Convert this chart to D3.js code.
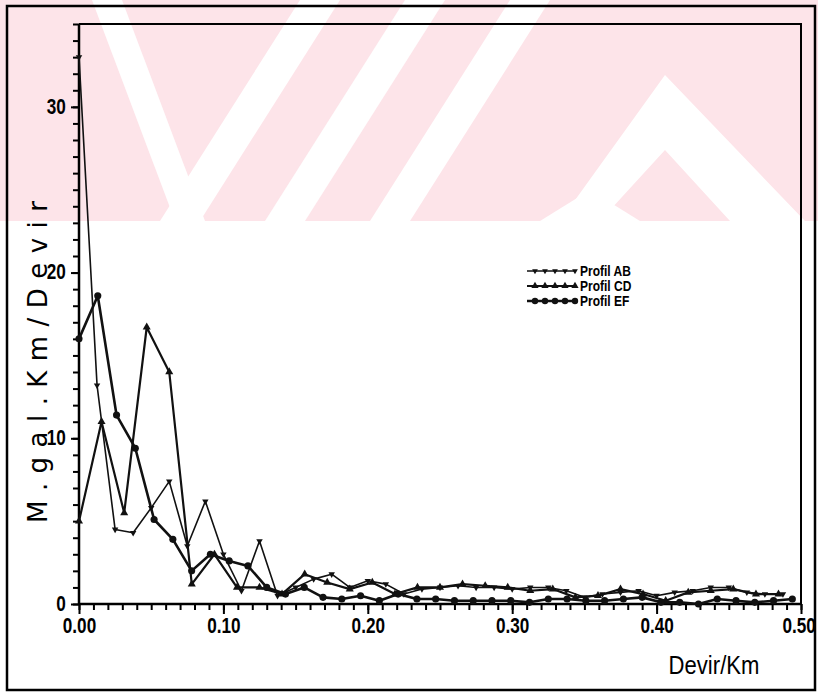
<html>
<head>
<meta charset="utf-8">
<style>
  body { margin: 0; background: #fff; }
  svg { display: block; }
</style>
</head>
<body>
<div id="chart"></div>
<script src="https://cdnjs.cloudflare.com/ajax/libs/d3/7.8.5/d3.min.js"></script>
<script>
"use strict";
// spectra (frequency in Devir/Km, amplitude in M.gal.Km/Devir)
var abFreq = [0, 0.0125, 0.025, 0.0375, 0.05, 0.0625, 0.075, 0.0875, 0.1, 0.1125, 0.125, 0.1375, 0.15, 0.1625, 0.175, 0.1875, 0.2, 0.2125, 0.225, 0.2375,
              0.25, 0.2625, 0.275, 0.2875, 0.3, 0.3125, 0.325, 0.3375, 0.35, 0.3625, 0.375, 0.3875, 0.4, 0.4125, 0.425, 0.4375, 0.45, 0.4625, 0.475, 0.4875];
var abAmp  = [33.0, 13.2, 4.5, 4.3, 5.8, 7.4, 3.5, 6.2, 3.0, 0.8, 3.8, 0.5, 1.0, 1.5, 1.8, 1.0, 1.4, 1.2, 0.6, 0.9,
              1.0, 1.1, 1.0, 1.0, 0.9, 1.0, 1.0, 0.8, 0.4, 0.6, 0.7, 0.8, 0.5, 0.7, 0.8, 1.0, 1.0, 0.7, 0.6, 0.6];

var cdFreq = [0, 0.0156, 0.0313, 0.0469, 0.0625, 0.0781, 0.0938, 0.1094, 0.125, 0.1406, 0.1563, 0.1719, 0.1875, 0.2031, 0.2188, 0.2344,
              0.25, 0.2656, 0.2813, 0.2969, 0.3125, 0.3281, 0.3438, 0.3594, 0.375, 0.3906, 0.4063, 0.4219, 0.4375, 0.4531, 0.4688, 0.4844];
var cdAmp  = [5.0, 11.0, 5.5, 16.7, 14.0, 1.2, 3.0, 1.0, 1.0, 0.6, 1.8, 1.3, 0.9, 1.3, 0.6, 1.0,
              1.0, 1.2, 1.1, 1.0, 0.8, 0.9, 0.4, 0.5, 0.9, 0.6, 0.2, 0.7, 0.8, 0.9, 0.6, 0.6];

var efFreq = [0, 0.013, 0.026, 0.039, 0.052, 0.065, 0.078, 0.091, 0.104, 0.117, 0.13, 0.143, 0.156, 0.169, 0.182, 0.195, 0.208, 0.221, 0.234, 0.247,
              0.26, 0.273, 0.286, 0.299, 0.312, 0.325, 0.338, 0.351, 0.364, 0.377, 0.39, 0.403, 0.416, 0.429, 0.442, 0.455, 0.468, 0.481, 0.494];
var efAmp  = [16.0, 18.6, 11.4, 9.4, 5.1, 3.9, 2.0, 3.0, 2.6, 2.3, 1.0, 0.6, 1.0, 0.4, 0.3, 0.5, 0.2, 0.6, 0.3, 0.3,
              0.2, 0.2, 0.2, 0.2, 0.1, 0.3, 0.3, 0.2, 0.2, 0.3, 0.4, 0.1, 0.1, 0.0, 0.3, 0.2, 0.1, 0.2, 0.3];

var seriesNames = ["Profil  AB", "Profil  CD", "Profil  EF"];
var xTicks = [0, 0.1, 0.2, 0.3, 0.4, 0.5];
var yTicks = [0, 10, 20, 30];

var W = 818, H = 695;
var svg = d3.select("#chart").append("svg").attr("width", W).attr("height", H);

// pink watermark band from the scan (decoration only)
var wm = svg.append("g");
wm.append("rect").attr("x", 0).attr("y", 0).attr("width", W).attr("height", 221).attr("fill", "#fde4e9");
var gaps = [
  [[92,0],[122,0],[205,221],[175,221]],
  [[300,0],[340,0],[200,221],[160,221]],
  [[405,0],[445,0],[305,221],[265,221]],
  [[510,0],[550,0],[410,221],[370,221]],
  [[590,190],[640,221],[540,221]],
  [[665,75],[805,221],[730,221],[665,150],[600,221],[560,221]]
];
wm.selectAll("polygon").data(gaps).join("polygon")
  .attr("points", function (d) { return d.join(" "); })
  .attr("fill", "#fff");

// outer frame of the scanned page
svg.append("rect").attr("x", 7).attr("y", 6).attr("width", 808).attr("height", 684)
  .attr("fill", "none").attr("stroke", "#000").attr("stroke-width", 2.5);

var x = d3.scaleLinear().domain([0, 0.5]).range([79, 801]);
var y = d3.scaleLinear().domain([0, 35]).range([604, 24]);

// narrow bold face like the plotter lettering: Liberation Sans squeezed horizontally
var axisFont = "'Liberation Sans', Arial, sans-serif";
function narrow(sel, sx) {
  sel.attr("transform", "scale(" + sx + ",1)");
}

// plot box top and right edges
svg.append("path")
  .attr("d", "M" + x(0) + "," + y(35) + "H" + x(0.5) + "V" + y(0))
  .attr("fill", "none").attr("stroke", "#000").attr("stroke-width", 2);

// minor ticks
var xAxisMinor = d3.axisBottom(x).ticks(50).tickSize(6).tickFormat("");
svg.append("g").attr("transform", "translate(0," + y(0) + ")").call(xAxisMinor)
  .call(function (g) { g.select(".domain").remove(); g.selectAll("line").attr("stroke-width", 2); });
var yAxisMinor = d3.axisLeft(y).ticks(35).tickSize(6).tickFormat("");
svg.append("g").attr("transform", "translate(" + x(0) + ",0)").call(yAxisMinor)
  .call(function (g) { g.select(".domain").remove(); g.selectAll("line").attr("stroke-width", 2); });

// major ticks and labels
var xAxis = d3.axisBottom(x).tickValues(xTicks).tickSize(10).tickPadding(3).tickFormat(d3.format(".2f"));
svg.append("g").attr("transform", "translate(0," + y(0) + ")").call(xAxis)
  .call(function (g) {
    g.select(".domain").attr("stroke-width", 2.5).attr("d", "M" + x(0) + ",0H" + x(0.5));
    g.selectAll("line").attr("stroke-width", 2);
    g.selectAll("text").attr("font-family", axisFont).attr("font-weight", "bold")
      .attr("font-size", 22).attr("fill", "#000").call(narrow, 0.78);
    g.selectAll(".tick:last-of-type text").attr("dx", -3);
  });
var yAxis = d3.axisLeft(y).tickValues(yTicks).tickSize(8).tickPadding(3).tickFormat(d3.format("d"));
svg.append("g").attr("transform", "translate(" + x(0) + ",0)").call(yAxis)
  .call(function (g) {
    g.select(".domain").attr("stroke-width", 2.5).attr("d", "M0," + y(35) + "V" + y(0));
    g.selectAll("line").attr("stroke-width", 2);
    g.selectAll("text").attr("font-family", axisFont).attr("font-weight", "bold")
      .attr("font-size", 22).attr("fill", "#000").attr("x", -17).attr("dy", "0.28em").call(narrow, 0.78);
  });

// axis titles
svg.append("g").attr("transform", "translate(714,674)")
  .append("text").attr("text-anchor", "middle")
  .attr("font-family", "'Liberation Sans', sans-serif").attr("font-size", 26)
  .call(narrow, 0.85)
  .text("Devir/Km");
svg.append("text").attr("transform", "translate(47,362) rotate(-90)").attr("text-anchor", "middle")
  .attr("font-family", "'DejaVu Sans', sans-serif").attr("font-size", 26)
  .attr("textLength", 322).attr("lengthAdjust", "spacing")
  .text("M.gal.Km/Devir");

// series
var line = d3.line().x(function (d) { return x(d[0]); }).y(function (d) { return y(d[1]); });
var sets = [
  { pts: d3.zip(abFreq, abAmp), sym: d3.symbolTriangle, size: 18, rot: 180, w: 1.6 },
  { pts: d3.zip(cdFreq, cdAmp), sym: d3.symbolTriangle, size: 28, rot: 0, w: 2.2 },
  { pts: d3.zip(efFreq, efAmp), sym: d3.symbolCircle, size: 40, rot: 0, w: 2.6 }
];
var plot = svg.append("g");
sets.forEach(function (s) {
  plot.append("path").datum(s.pts).attr("d", line)
    .attr("fill", "none").attr("stroke", "#111").attr("stroke-width", s.w).attr("stroke-linejoin", "round");
  plot.selectAll(null).data(s.pts).join("path")
    .attr("transform", function (d) { return "translate(" + x(d[0]) + "," + y(d[1]) + ") rotate(" + s.rot + ")"; })
    .attr("d", d3.symbol().type(s.sym).size(s.size))
    .attr("fill", "#111");
});

// legend
var lg = svg.append("g").attr("transform", "translate(527,271)");
sets.forEach(function (s, i) {
  var row = lg.append("g").attr("transform", "translate(0," + i * 15 + ")");
  row.append("line").attr("x1", 0).attr("x2", 48).attr("stroke", "#111").attr("stroke-width", s.w);
  row.selectAll("path").data(d3.range(5)).join("path")
    .attr("transform", function (k) { return "translate(" + (8 + k * 10) + ",0) rotate(" + s.rot + ")"; })
    .attr("d", d3.symbol().type(s.sym).size(s.size * 0.8))
    .attr("fill", "#111");
  row.append("g").attr("transform", "translate(53,5)")
    .append("text")
    .attr("font-family", axisFont).attr("font-weight", "bold").attr("font-size", 15)
    .call(narrow, 0.8)
    .text(seriesNames[i]);
});
</script>
</body>
</html>
